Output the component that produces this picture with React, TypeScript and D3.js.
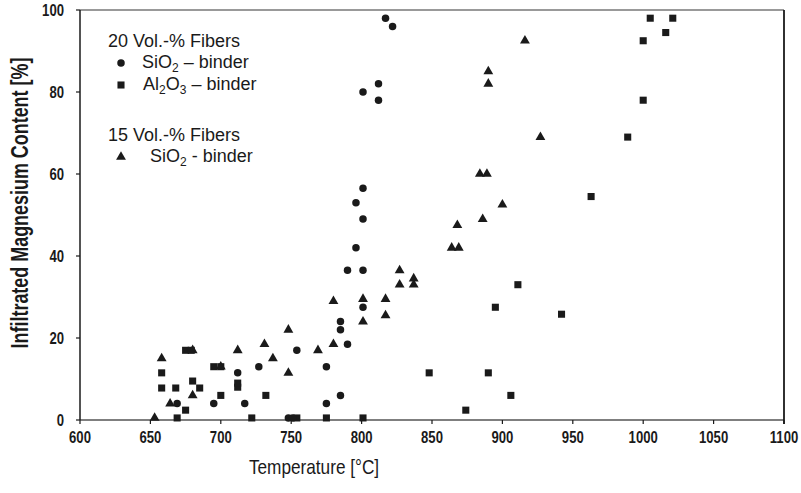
import React from 'react';
import * as d3 from 'd3';

// temperature [°C], infiltrated content [%]
const sio2Fibers20: [number, number][] = [
  [669, 4], [695, 4], [712, 11.5], [717, 4], [727, 13], [748, 0.5], [751, 0.5],
  [754, 17], [775, 13], [775, 4], [785, 24], [785, 22], [785, 6], [790, 18.5],
  [790, 36.5], [796, 53], [796, 42], [801, 56.5], [801, 49], [801, 80],
  [801, 36.5], [801, 27.5], [812, 82], [812, 78], [817, 98], [822, 96],
];

const al2o3Fibers20: [number, number][] = [
  [658, 11.5], [658, 7.8], [669, 0.5], [668, 7.8], [675, 2.4], [675, 17],
  [679, 17], [680, 9.5], [685, 7.8], [695, 13], [700, 13], [700, 6], [712, 8],
  [712, 9], [722, 0.5], [732, 6], [754, 0.5], [775, 0.5], [801, 0.5],
  [848, 11.5], [874, 2.4], [890, 11.5], [895, 27.5], [906, 6], [911, 33],
  [942, 25.8], [963, 54.5], [989, 69], [1000, 78], [1000, 92.5], [1005, 98],
  [1016, 94.5], [1021, 98],
];

const sio2Fibers15: [number, number][] = [
  [653, 0.5], [658, 15], [664, 4], [680, 17], [680, 6], [700, 13], [712, 17],
  [731, 18.5], [737, 15], [748, 22], [748, 11.5], [769, 17], [780, 29],
  [780, 18.5], [801, 24], [801, 29.5], [817, 29.5], [817, 25.5], [827, 36.5],
  [827, 33], [837, 34.5], [837, 33], [864, 42], [869, 42], [868, 47.5],
  [884, 60], [889, 60], [886, 49], [890, 85], [890, 82], [900, 52.5],
  [916, 92.5], [927, 69],
];

const xTicks = [600, 650, 700, 750, 800, 850, 900, 950, 1000, 1050, 1100];
const yTicks = [0, 20, 40, 60, 80, 100];

const sans = "'Liberation Sans', Arial, sans-serif";

export default function App() {
  const left = 80, right = 784, top = 10, bottom = 420;
  const x = d3.scaleLinear().domain([600, 1100]).range([left, right]);
  const y = d3.scaleLinear().domain([0, 100]).range([bottom, top]);

  const circle = d3.symbol(d3.symbolCircle, 44)()!;
  const square = d3.symbol(d3.symbolSquare, 50)()!;
  const triangle = d3.symbol(d3.symbolTriangle, 42)()!;

  const ink = '#1a1a1a';

  return (
    <svg width={801} height={493} style={{ position: 'absolute', left: 0, top: 0, background: '#fff' }}>
      {/* frame */}
      <line x1={left} x2={right} y1={top} y2={top} stroke="#777" strokeWidth={1.5} />
      <line x1={left} x2={right} y1={bottom} y2={bottom} stroke="#555" strokeWidth={1.5} />
      <line x1={left} x2={left} y1={top} y2={bottom} stroke={ink} strokeWidth={1.5} />
      <line x1={right} x2={right} y1={top} y2={bottom + 4} stroke={ink} strokeWidth={1.8} />

      {xTicks.map((t) => (
        <g key={'x' + t}>
          <line x1={x(t)} x2={x(t)} y1={bottom} y2={bottom + 4} stroke={ink} strokeWidth={1.2} />
          <g transform={`translate(${x(t)},443) scale(0.82,1)`}>
            <text textAnchor="middle" fontFamily={sans} fontWeight="bold" fontSize={16} fill={ink}>
              {t}
            </text>
          </g>
        </g>
      ))}
      {yTicks.map((t) => (
        <g key={'y' + t}>
          <line x1={left - 4} x2={left} y1={y(t)} y2={y(t)} stroke={ink} strokeWidth={1.2} />
          <g transform={`translate(64,${y(t) + 5.5}) scale(0.82,1)`}>
            <text textAnchor="end" fontFamily={sans} fontWeight="bold" fontSize={16} fill={ink}>
              {t}
            </text>
          </g>
        </g>
      ))}

      {/* axis titles */}
      <g transform="translate(314,474) scale(0.82,1)">
        <text textAnchor="middle" fontFamily={sans} fontSize={21} fill={ink}>
          Temperature [°C]
        </text>
      </g>
      <g transform="translate(28,203) rotate(-90) scale(0.78,1)">
        <text textAnchor="middle" fontFamily={sans} fontWeight="bold" fontSize={23} fill={ink}>
          Infiltrated Magnesium Content [%]
        </text>
      </g>

      {/* data */}
      {sio2Fibers15.map((d, i) => (
        <path key={'t' + i} d={triangle} transform={`translate(${x(d[0])},${y(d[1])})`} fill={ink} />
      ))}
      {al2o3Fibers20.map((d, i) => (
        <path key={'s' + i} d={square} transform={`translate(${x(d[0])},${y(d[1])})`} fill={ink} />
      ))}
      {sio2Fibers20.map((d, i) => (
        <path key={'c' + i} d={circle} transform={`translate(${x(d[0])},${y(d[1])})`} fill={ink} />
      ))}

      {/* legend */}
      <g fontFamily={sans} fontSize={18} fill={ink}>
        <text x={108} y={47}>20 Vol.-% Fibers</text>
        <path d={circle} transform="translate(121,63)" fill={ink} />
        <text x={142} y={68}>
          SiO<tspan dy={4} fontSize={12}>2</tspan><tspan dy={-4}> – binder</tspan>
        </text>
        <path d={square} transform="translate(121,85)" fill={ink} />
        <text x={143} y={90}>
          Al<tspan dy={4} fontSize={12}>2</tspan><tspan dy={-4}>O</tspan>
          <tspan dy={4} fontSize={12}>3</tspan><tspan dy={-4}> – binder</tspan>
        </text>
        <text x={108} y={141}>15 Vol.-% Fibers</text>
        <path d={triangle} transform="translate(121,157)" fill={ink} />
        <text x={150} y={162}>
          SiO<tspan dy={4} fontSize={12}>2</tspan><tspan dy={-4}> - binder</tspan>
        </text>
      </g>
    </svg>
  );
}
